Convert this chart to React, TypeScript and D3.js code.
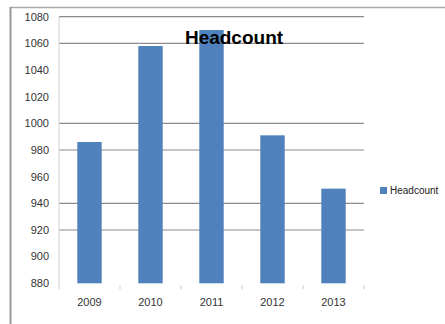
import React from "react";
import * as d3 from "d3";

const years = ["2009", "2010", "2011", "2012", "2013"];
const headcount = [986, 1058, 1070, 991, 951];
const yTicks = [880, 900, 920, 940, 960, 980, 1000, 1020, 1040, 1060, 1080];
const visibleGrid = [920, 940, 980, 1000, 1060, 1080];
const title = "Headcount";
const seriesName = "Headcount";

export default function App() {
  const W = 445, H = 324;
  const left = 59, right = 364, top = 16.7, bottom = 283.3;
  const x = d3.scaleBand<string>().domain(years).range([left, right]).paddingInner(0.6).paddingOuter(0.3);
  const y = d3.scaleLinear().domain([880, 1080]).range([bottom, top]);
  const step = (right - left) / years.length;
  const font = "'Liberation Sans', Arial, sans-serif";
  return (
    <svg width={W} height={H} style={{ position: "absolute", left: 0, top: 0 }}>
      <rect x={0} y={0} width={W} height={H} fill="#fff" />
      <line x1={10} x2={W} y1={7.5} y2={7.5} stroke="#aaa" strokeWidth={1.5} />
      <line x1={10.5} x2={10.5} y1={7} y2={H} stroke="#999" strokeWidth={2} />
      {visibleGrid.map((v) => (
        <line key={v} x1={left} x2={right} y1={y(v)} y2={y(v)} stroke="#8c8c8c" strokeWidth={1.2} />
      ))}
      <line x1={left} x2={left} y1={top} y2={bottom + 6} stroke="#d0d0d0" strokeWidth={1} />
      {years.map((_, i) => (
        <line key={i} x1={left + step * (i + 1)} x2={left + step * (i + 1)} y1={bottom + 2} y2={bottom + 6} stroke="#c8c8c8" strokeWidth={1} />
      ))}
      {years.map((yr, i) => (
        <rect key={yr} x={x(yr)} y={y(headcount[i])} width={x.bandwidth()} height={bottom - y(headcount[i])} fill="#4f81bd" />
      ))}
      {yTicks.map((v) => (
        <text key={v} x={49} y={y(v)} dy="0.35em" textAnchor="end" fontFamily={font} fontSize={11} fill="#333">{v}</text>
      ))}
      {years.map((yr) => (
        <text key={yr} x={(x(yr) as number) + x.bandwidth() / 2} y={302} dy="0.35em" textAnchor="middle" fontFamily={font} fontSize={11} fill="#333">{yr}</text>
      ))}
      <text x={234} y={44} textAnchor="middle" fontFamily={font} fontWeight="bold" fontSize={19} fill="#000">{title}</text>
      <rect x={380} y={187} width={7} height={7} fill="#4f81bd" />
      <text x={390} y={190.5} dy="0.35em" fontFamily={font} fontSize={10} fill="#222">{seriesName}</text>
    </svg>
  );
}
